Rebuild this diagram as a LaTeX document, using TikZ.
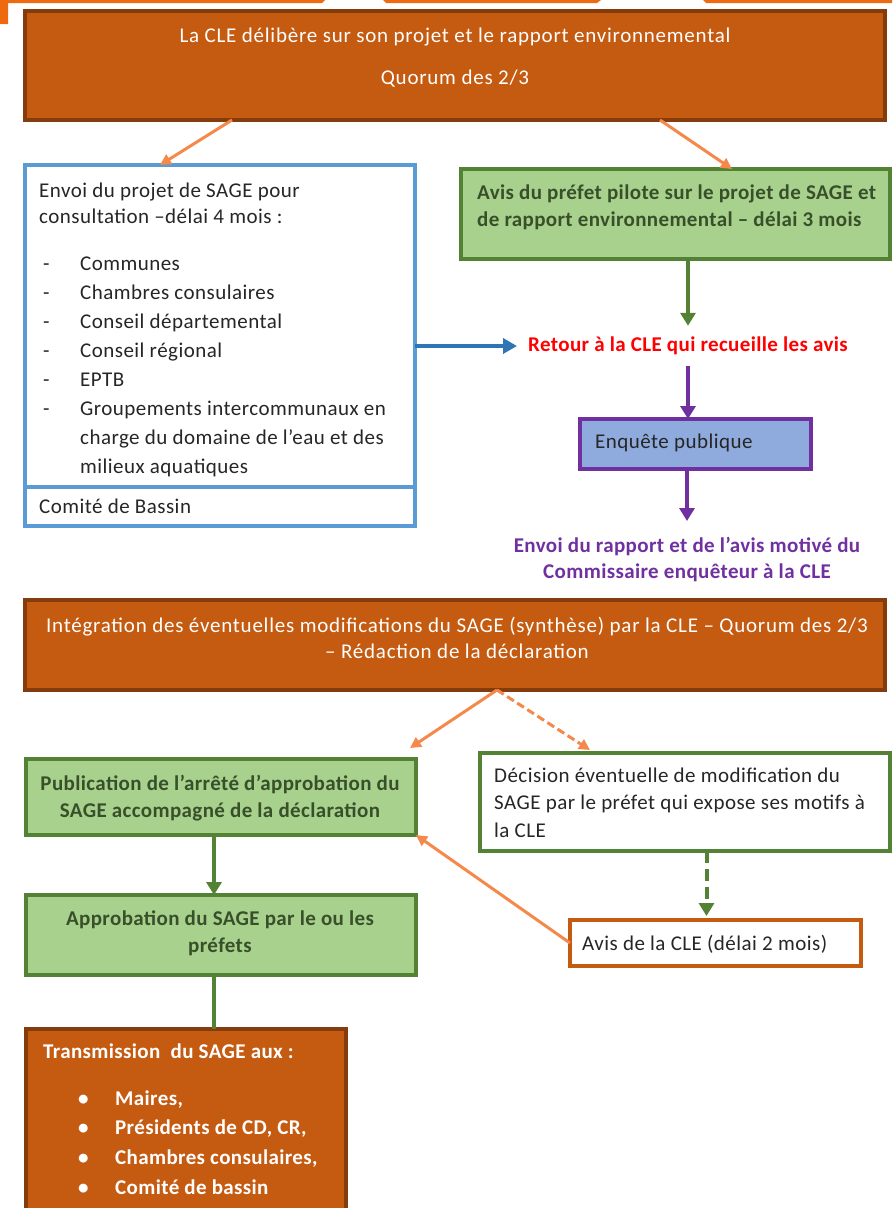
\documentclass[tikz,border=0pt]{standalone}
\usepackage{fontspec}
\setmainfont{Carlito}
\newfontfamily\texteespace[LetterSpace=2.2]{Carlito}
\newfontfamily\titreespace[LetterSpace=3.6]{Carlito}
\newfontfamily\grasespace[LetterSpace=1.8]{Carlito}
\usetikzlibrary{arrows.meta,calc}

\definecolor{brunOrange}{HTML}{C55A11}
\definecolor{brunFonce}{HTML}{843C0C}
\definecolor{orangeVif}{HTML}{EE6A10}
\definecolor{flecheOrange}{HTML}{F4894B}
\definecolor{bleuCadre}{HTML}{5B9BD5}
\definecolor{bleuFleche}{HTML}{2E75B6}
\definecolor{vertCadre}{HTML}{548235}
\definecolor{vertFond}{HTML}{A9D18E}
\definecolor{vertTexte}{HTML}{38502A}
\definecolor{violetCle}{HTML}{7030A0}
\definecolor{bleuFond}{HTML}{8FAADC}
\definecolor{texteGris}{HTML}{262626}

\newcommand{\hautligne}{\rule{0pt}{17pt}}

\tikzset{
  cadre/.style={draw, line width=4pt, anchor=north west, inner sep=0pt, outer sep=0pt},
  orangebox/.style={cadre, draw=brunFonce, fill=brunOrange},
  bluebox/.style={cadre, draw=bleuCadre, fill=white},
  greenbox/.style={cadre, draw=vertCadre, fill=vertFond},
  texte/.style={anchor=north west, inner sep=0pt, align=left, text=texteGris},
  fleche/.style={line width=3pt, draw=flecheOrange, -{Triangle[length=11pt,width=11pt]}},
  flechevert/.style={line width=4pt, draw=vertCadre, -{Triangle[length=13pt,width=15pt]}},
  flecheviolet/.style={line width=4pt, draw=violetCle, -{Triangle[length=13pt,width=15pt]}},
  flechebleue/.style={line width=4pt, draw=bleuFleche, -{Triangle[length=14pt,width=15pt]}},
}

\begin{document}
\begin{tikzpicture}[x=1pt,y=-1pt]
  \useasboundingbox (0,0) rectangle (892,1208);
  % morceaux de la page precedente
  \fill[orangeVif] (0,0) -- (325,0) -- (322,3) -- (8,3) -- (8,24) -- (0,24) -- cycle;
  \fill[orangeVif] (383,0) -- (601,0) -- (597,3) -- (386,3) -- cycle;
  \fill[orangeVif] (703,0) -- (892,0) -- (892,3) -- (706,3) -- cycle;

  % cadres
  \node[orangebox, minimum width=860pt, minimum height=109pt] (cledelib) at (25,11) {};
  \node[bluebox, minimum width=390pt, minimum height=322pt] (envoi) at (25,165) {};
  \node[bluebox, minimum width=390pt, minimum height=39pt] (comite) at (25,487) {};
  \node[greenbox, minimum width=429pt, minimum height=90pt] (avispref) at (461,169) {};
  \node[cadre, draw=violetCle, fill=bleuFond, minimum width=231pt, minimum height=50pt] (enquete) at (580,419) {};
  \node[orangebox, minimum width=860pt, minimum height=90pt] (integ) at (25,600) {};
  \node[greenbox, minimum width=390pt, minimum height=76pt] (publi) at (26,759) {};
  \node[cadre, draw=vertCadre, fill=white, minimum width=410pt, minimum height=98pt] (decision) at (480,753) {};
  \node[greenbox, minimum width=390pt, minimum height=80pt] (approb) at (26,895) {};
  \node[cadre, draw=brunOrange, fill=white, minimum width=291pt, minimum height=46pt] (aviscle) at (570,920) {};
  \node[orangebox, minimum width=320pt, minimum height=200pt] (transm) at (26,1029) {};

  % textes
  \node[texte, anchor=north, align=center, text=white, font=\titreespace\fontsize{21}{42}\selectfont] (titrecle) at (455,25)
    {\hautligne La CLE délibère sur son projet et le rapport environnemental\\Quorum des 2/3};
  \node[texte, font=\texteespace\fontsize{21}{26}\selectfont] (titreenvoi) at (39,180)
    {\hautligne Envoi du projet de SAGE pour\\consultation –délai 4 mois :};
  \node[texte, font=\texteespace\fontsize{21}{29}\selectfont] (listeenvoi) at (43,253)
    {\hautligne\makebox[37pt][l]{-}Communes\\
     \makebox[37pt][l]{-}Chambres consulaires\\
     \makebox[37pt][l]{-}Conseil départemental\\
     \makebox[37pt][l]{-}Conseil régional\\
     \makebox[37pt][l]{-}EPTB\\
     \makebox[37pt][l]{-}Groupements intercommunaux en\\
     \hspace*{37pt}charge du domaine de l’eau et des\\
     \hspace*{37pt}milieux aquatiques};
  \node[texte, font=\texteespace\fontsize{21}{26}\selectfont] (titrecomite) at (39,496) {\hautligne Comité de Bassin};
  \node[texte, text=vertTexte, font=\grasespace\bfseries\fontsize{21}{27}\selectfont] (titreavis) at (477,182)
    {\hautligne Avis du préfet pilote sur le projet de SAGE et\\de rapport environnemental – délai 3 mois};
  \node[text=red, inner sep=11pt, font=\grasespace\bfseries\fontsize{21}{26}\selectfont] (retour) at (688,346)
    {Retour à la CLE qui recueille les avis};
  \node[texte, font=\texteespace\fontsize{21}{26}\selectfont] (titreenquete) at (595,431) {\hautligne Enquête publique};
  \node[texte, anchor=north, align=center, inner sep=14pt, text=violetCle, font=\grasespace\bfseries\fontsize{21}{26}\selectfont] (envoirap) at (687,521)
    {\hautligne Envoi du rapport et de l’avis motivé du\\Commissaire enquêteur à la CLE};
  \node[texte, anchor=north, align=center, text=white, font=\titreespace\fontsize{21}{26}\selectfont] (titreinteg) at (457,615)
    {\hautligne Intégration des éventuelles modifications du SAGE (synthèse) par la CLE – Quorum des 2/3\\– Rédaction de la déclaration};
  \node[texte, anchor=north, align=center, text=vertTexte, font=\grasespace\bfseries\fontsize{21}{27}\selectfont] (titrepubli) at (220,773)
    {\hautligne Publication de l’arrêté d’approbation du\\SAGE accompagné de la déclaration};
  \node[texte, font=\texteespace\fontsize{21}{27.5}\selectfont] (titredecision) at (494,765)
    {\hautligne Décision éventuelle de modification du\\SAGE par le préfet qui expose ses motifs à\\la CLE};
  \node[texte, anchor=north, align=center, text=vertTexte, font=\grasespace\bfseries\fontsize{21}{27}\selectfont] (titreapprob) at (220,908)
    {\hautligne Approbation du SAGE par le ou les\\préfets};
  \node[texte, font=\texteespace\fontsize{21}{26}\selectfont] (titreaviscle) at (582,933) {\hautligne Avis de la CLE (délai 2 mois)};
  \node[texte, text=white, font=\grasespace\bfseries\fontsize{21}{26}\selectfont] (titretransm) at (43,1041)
    {\hautligne Transmission\ \ du SAGE aux :};
  \node[texte, text=white, font=\grasespace\bfseries\fontsize{21}{29.7}\selectfont] (listetransm) at (78,1088)
    {\hautligne\makebox[37pt][l]{•}Maires,\\
     \makebox[37pt][l]{•}Présidents de CD, CR,\\
     \makebox[37pt][l]{•}Chambres consulaires,\\
     \makebox[37pt][l]{•}Comité de bassin};

  % fleches
  \draw[fleche] ([xshift=207pt]cledelib.south west) -- ([xshift=135pt]envoi.north west);
  \draw[fleche] ([xshift=635pt]cledelib.south west) -- ([xshift=271pt]avispref.north west);
  \draw[flechevert] (retour.north |- avispref.south) -- (retour.north);
  \draw[flechebleue] (envoi.east |- retour.west) -- (retour.west);
  \draw[flecheviolet] (retour.south) -- (retour.south |- enquete.north);
  \draw[flecheviolet] (enquete.south -| envoirap.north) -- (envoirap.north);
  \draw[fleche] ([xshift=472pt]integ.south west) -- ([xshift=384pt,yshift=11pt]publi.north west);
  \draw[fleche, dash pattern=on 8pt off 4pt] ([xshift=472pt]integ.south west) -- ([xshift=110pt,yshift=3pt]decision.north west);
  \draw[flechevert] ([xshift=-7pt]publi.south) -- ([xshift=-7pt]approb.north);
  \draw[flechevert, dash pattern=on 12pt off 6pt, shorten >=4pt] ([xshift=-9pt]aviscle.north |- decision.south) -- ([xshift=-9pt]aviscle.north);
  \draw[fleche] (aviscle.west) -- (publi.south east);
  \draw[vertCadre, line width=4pt] ([xshift=-7pt]approb.south) -- ([xshift=-7pt]approb.south |- transm.north);
\end{tikzpicture}
\end{document}
